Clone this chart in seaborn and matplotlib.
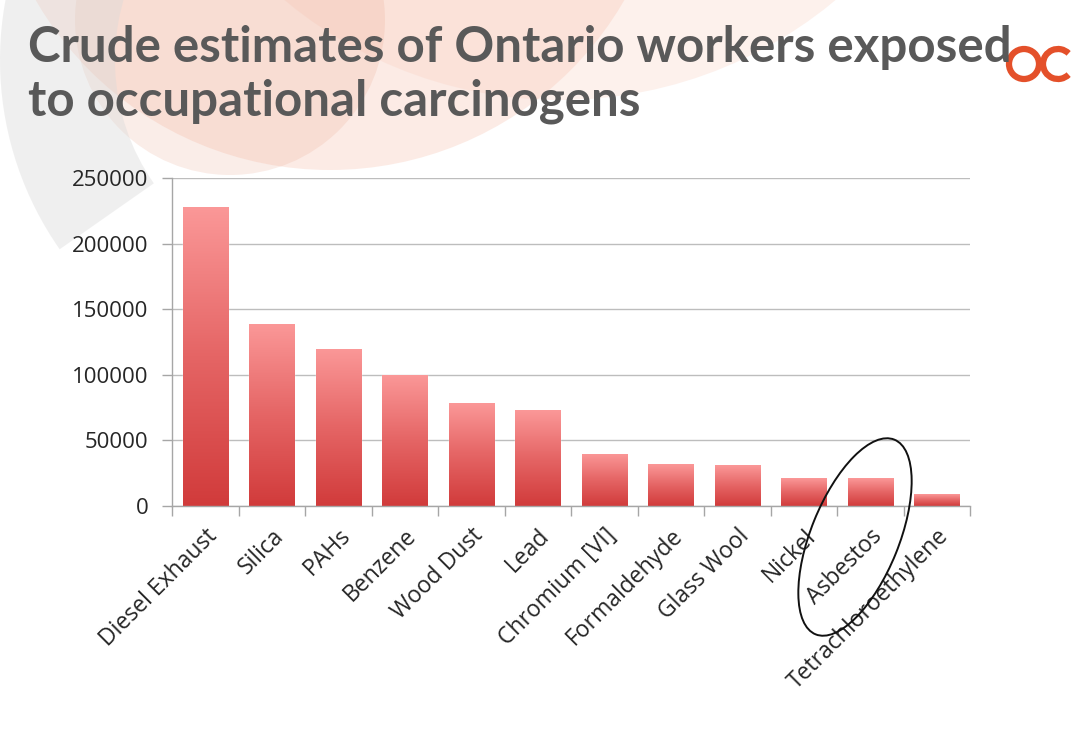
import numpy as np
import pandas as pd
import matplotlib
matplotlib.use("Agg")
import matplotlib.pyplot as plt
import seaborn as sns
from matplotlib.patches import Ellipse, Circle, Arc, Wedge
from matplotlib.colors import LinearSegmentedColormap

# ---- data ----
categories = ["Diesel Exhaust", "Silica", "PAHs", "Benzene", "Wood Dust", "Lead",
              "Chromium [VI]", "Formaldehyde", "Glass Wool", "Nickel", "Asbestos",
              "Tetrachloroethylene"]
workers = [228000, 139000, 120000, 100000, 78500, 73000, 40000, 32000, 31000, 21000, 21000, 9000]
yticks = [0, 50000, 100000, 150000, 200000, 250000]
title_line1 = "Crude estimates of Ontario workers exposed"
title_line2 = "to occupational carcinogens"

df = pd.DataFrame({"agent": categories, "workers": workers})

sns.set_theme(style="white")
plt.rcParams["font.family"] = ["Open Sans", "DejaVu Sans"]

fig = plt.figure(figsize=(10.74, 7.42), dpi=100)
fig.patch.set_facecolor("white")

# ---- decorative background (slide swirls) ----
T = fig.dpi_scale_trans
def px(x, y):
    return (x / 100.0, (742 - y) / 100.0)

bg = [
    Circle(px(330, -170), 3.4, transform=T, facecolor="#f6b9a3", alpha=0.28, edgecolor="none", zorder=-3),
    Circle(px(560, -330), 4.3, transform=T, facecolor="#f9cdbd", alpha=0.28, edgecolor="none", zorder=-3),
    Circle(px(230, 20), 1.55, transform=T, facecolor="#e9a58c", alpha=0.2, edgecolor="none", zorder=-3),
    Wedge(px(330, 60), 3.3, 150, 215, width=1.15, transform=T, facecolor="#d9d9d9", alpha=0.4,
          edgecolor="none", zorder=-3),
]
for p in bg:
    fig.patches.append(p)

# ---- title ----
fig.text(28 / 1074, 1 - 62 / 742, title_line1, fontsize=35.5, fontweight="bold",
         color="#595959", family=["Lato", "DejaVu Sans"], ha="left", va="baseline", zorder=4)
fig.text(28 / 1074, 1 - 115 / 742, title_line2, fontsize=35.5, fontweight="bold",
         color="#595959", family=["Lato", "DejaVu Sans"], ha="left", va="baseline", zorder=4)

# ---- logo ----
fig.patches.append(Circle(px(1024, 64), 0.15, transform=T, fill=False, edgecolor="#e4502a",
                          linewidth=4.5, zorder=3))
fig.patches.append(Arc(px(1058, 64), 0.30, 0.30, theta1=45, theta2=315, transform=T,
                       edgecolor="#e4502a", linewidth=4.5, zorder=3))

# ---- chart ----
ax = fig.add_axes([172 / 1074, 1 - 506 / 742, (970 - 172) / 1074, (506 - 178) / 742])
ax.set_zorder(2)
ax.set_facecolor("none")
sns.barplot(data=df, x="agent", y="workers", ax=ax, color="#e05555", width=0.68,
            saturation=1, zorder=2)

cmap = LinearSegmentedColormap.from_list("bar", ["#d13b3b", "#e56565", "#fb9898"])
grad = np.linspace(0, 1, 256).reshape(-1, 1)
for patch in ax.patches:
    x0, y0 = patch.get_x(), patch.get_y()
    w, h = patch.get_width(), patch.get_height()
    im = ax.imshow(grad, cmap=cmap, origin="lower", aspect="auto",
                   extent=[x0, x0 + w, y0, y0 + h], zorder=2.5)
    im.set_clip_path(patch)

ax.set_xlim(-0.5, len(categories) - 0.5)
ax.set_ylim(0, 250000)
ax.set_yticks(yticks)
ax.set_yticklabels([str(v) for v in yticks], fontsize=16, color="#262626")
ax.yaxis.grid(True, color="#bdbdbd", linewidth=1.0, zorder=0)
ax.set_axisbelow(True)

ax.set_xticks(np.arange(len(categories)))
ax.set_xticklabels(categories, rotation=45, ha="right", rotation_mode="anchor",
                   fontsize=16.5, color="#262626")
ax.set_xticks(np.arange(len(categories) + 1) - 0.5, minor=True)
ax.tick_params(axis="x", which="minor", bottom=True, length=7, color="#a6a6a6", width=1, direction="out")
ax.tick_params(axis="x", which="major", bottom=True, length=0, pad=13)
ax.tick_params(axis="y", left=True, length=7, color="#a6a6a6", width=1, direction="out", pad=10)

for s in ["top", "right"]:
    ax.spines[s].set_visible(False)
for s in ["left", "bottom"]:
    ax.spines[s].set_color("#a6a6a6")
    ax.spines[s].set_linewidth(1.0)
ax.set_xlabel("")
ax.set_ylabel("")

# ---- hand-drawn ellipse around Asbestos ----
fig.patches.append(Ellipse(px(855, 537), 2.1, 0.88, angle=68, transform=T, fill=False,
                           edgecolor="#111111", linewidth=1.4, zorder=5))

fig.savefig("out.png", dpi=100)
